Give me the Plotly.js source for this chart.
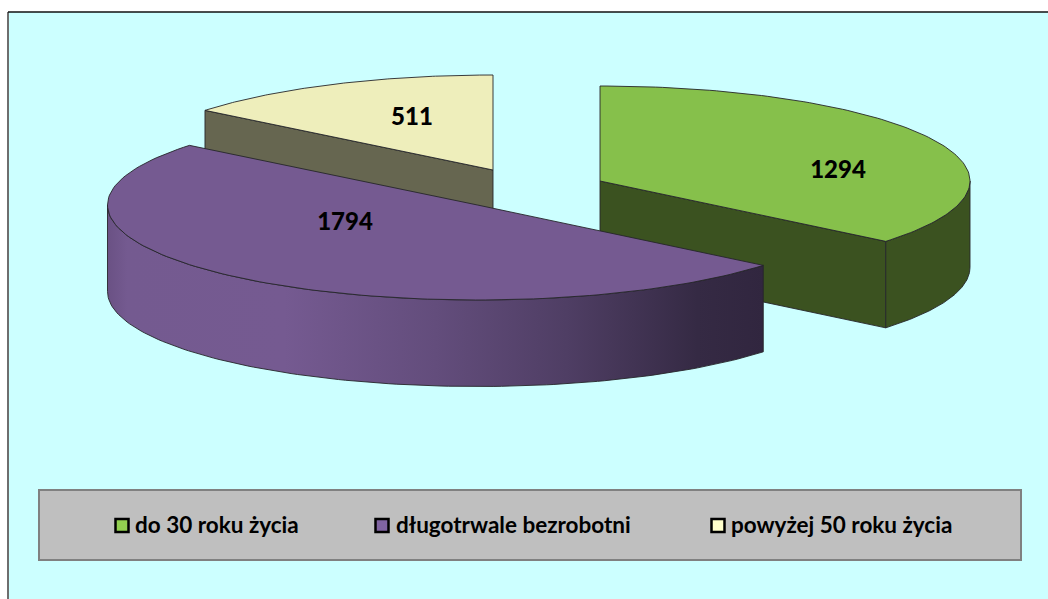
<!DOCTYPE html>
<html><head><meta charset="utf-8">
<script src="https://cdn.plot.ly/plotly-3.0.1.min.js"></script>
<style>html,body{margin:0;padding:0;background:#fff;overflow:hidden}#c{width:1048px;height:599px}</style>
</head><body><div id="c"></div>
<script>
// ---- data ----
const categories = ['do 30 roku życia', 'długotrwale bezrobotni', 'powyżej 50 roku życia'];
const values = [1294, 1794, 511];

// ---- styles ----
const topColors = ['#86c04b', '#755a91', '#eeeebb'];
const wallColors = ['#3b5220', '#755a91', '#666650'];
const swatchColors = ['#92d050', '#8064a2', '#ffffcc'];
const font = 'Lato, Carlito, sans-serif';

// ---- layout of the tilted, exploded pie (pixel-scaled axes) ----
const centers = [[600, 181], [477.5, 205], [493, 170]];
const rx = 370, ry = 95, depth = 86.5;
const valueLabelX = [838, 345, 412];
const valueLabelY = [171.5, 223.5, 118.5];
const swatchX = [122, 382, 718];
const legendTextX = [135, 396, 731];
const swatchY = 525.5;
const legendTextY = 527.5;

const total = values.reduce((a, b) => a + b, 0);
const starts = [];
values.reduce((acc, v, i) => { starts[i] = acc; return acc + v / total * 2 * Math.PI; }, 0);
const ends = values.map((v, i) => starts[i] + v / total * 2 * Math.PI);

function arc(c, a0, a1, dy) {
  const n = 120, xs = [], ys = [];
  for (let k = 0; k <= n; k++) {
    const t = a0 + (a1 - a0) * k / n;
    xs.push(c[0] + rx * Math.sin(t));
    ys.push(c[1] - ry * Math.cos(t) + dy);
  }
  return [xs, ys];
}
const edge = '#26262a';
function poly(xs, ys, fill, extra) {
  return Object.assign({
    x: xs.concat(xs[0]), y: ys.concat(ys[0]), mode: 'lines', fill: 'toself',
    fillcolor: fill, line: { color: edge, width: 0.9 }, hoverinfo: 'skip', showlegend: false
  }, extra || {});
}
function topFace(i) {
  const c = centers[i], a = arc(c, starts[i], ends[i], 0);
  return poly([c[0]].concat(a[0]), [c[1]].concat(a[1]), topColors[i]);
}
function radialWall(i, angle) {
  const c = centers[i];
  const px = c[0] + rx * Math.sin(angle), py = c[1] - ry * Math.cos(angle);
  return poly([c[0], px, px, c[0]], [c[1], py, py + depth, c[1] + depth], wallColors[i]);
}
function outerWall(i, a0, a1, extra) {
  const c = centers[i], t = arc(c, a0, a1, 0), b = arc(c, a0, a1, depth);
  return poly(t[0].concat(b[0].slice().reverse()), t[1].concat(b[1].slice().reverse()), wallColors[i], extra);
}

const traces = [];
// powyżej 50
traces.push(radialWall(2, starts[2]));
traces.push(topFace(2));
// do 30
traces.push(radialWall(0, ends[0]));
traces.push(outerWall(0, Math.PI / 2, ends[0]));
traces.push(topFace(0));
// długotrwale: shaded outer wall
traces.push(outerWall(1, starts[1], 1.5 * Math.PI, {
  fillgradient: {
    type: 'horizontal',
    colorscale: [[0, '#6a5184'], [0.03, '#745a90'], [0.27, '#755a91'], [0.5, '#634d7c'],
                 [0.7, '#4f3e64'], [0.9, '#352a44'], [1, '#31263f']]
  }
}));
traces.push(topFace(1));

// value labels
traces.push({
  x: valueLabelX, y: valueLabelY, mode: 'text', text: values.map(String),
  textfont: { family: font, size: 24, color: '#000', weight: 900 },
  textposition: 'middle center', hoverinfo: 'skip', showlegend: false
});
// legend entries
traces.push({
  x: swatchX, y: swatchX.map(() => swatchY), mode: 'markers',
  marker: { symbol: 'square', size: 13, color: swatchColors, line: { color: '#000', width: 2.5 } },
  hoverinfo: 'skip', showlegend: false
});
traces.push({
  x: legendTextX, y: legendTextX.map(() => legendTextY), mode: 'text', text: categories,
  textposition: 'middle right',
  textfont: { family: font, size: 22.5, color: '#000', weight: 700 },
  hoverinfo: 'skip', showlegend: false
});

const hidden = { visible: false, fixedrange: true };
Plotly.newPlot('c', traces, {
  width: 1048, height: 599,
  margin: { l: 0, r: 0, t: 0, b: 0 },
  paper_bgcolor: '#fff', plot_bgcolor: '#fff',
  xaxis: Object.assign({ range: [0, 1048] }, hidden),
  yaxis: Object.assign({ range: [599, 0] }, hidden),
  showlegend: false,
  shapes: [
    { type: 'rect', layer: 'below', x0: 8, x1: 1050, y0: 12, y1: 601, fillcolor: '#ccffff', line: { width: 0 } },
    { type: 'line', layer: 'below', x0: 8, x1: 8, y0: 12, y1: 601, line: { color: '#6e6e6e', width: 2 } },
    { type: 'line', layer: 'below', x0: 8, x1: 1050, y0: 12, y1: 12, line: { color: '#111', width: 1.5 } },
    { type: 'rect', layer: 'below', x0: 39, x1: 1021, y0: 490, y1: 560, fillcolor: '#bfbfbf', line: { color: '#808080', width: 2 } }
  ]
}, { staticPlot: true, displayModeBar: false });
</script></body></html>
